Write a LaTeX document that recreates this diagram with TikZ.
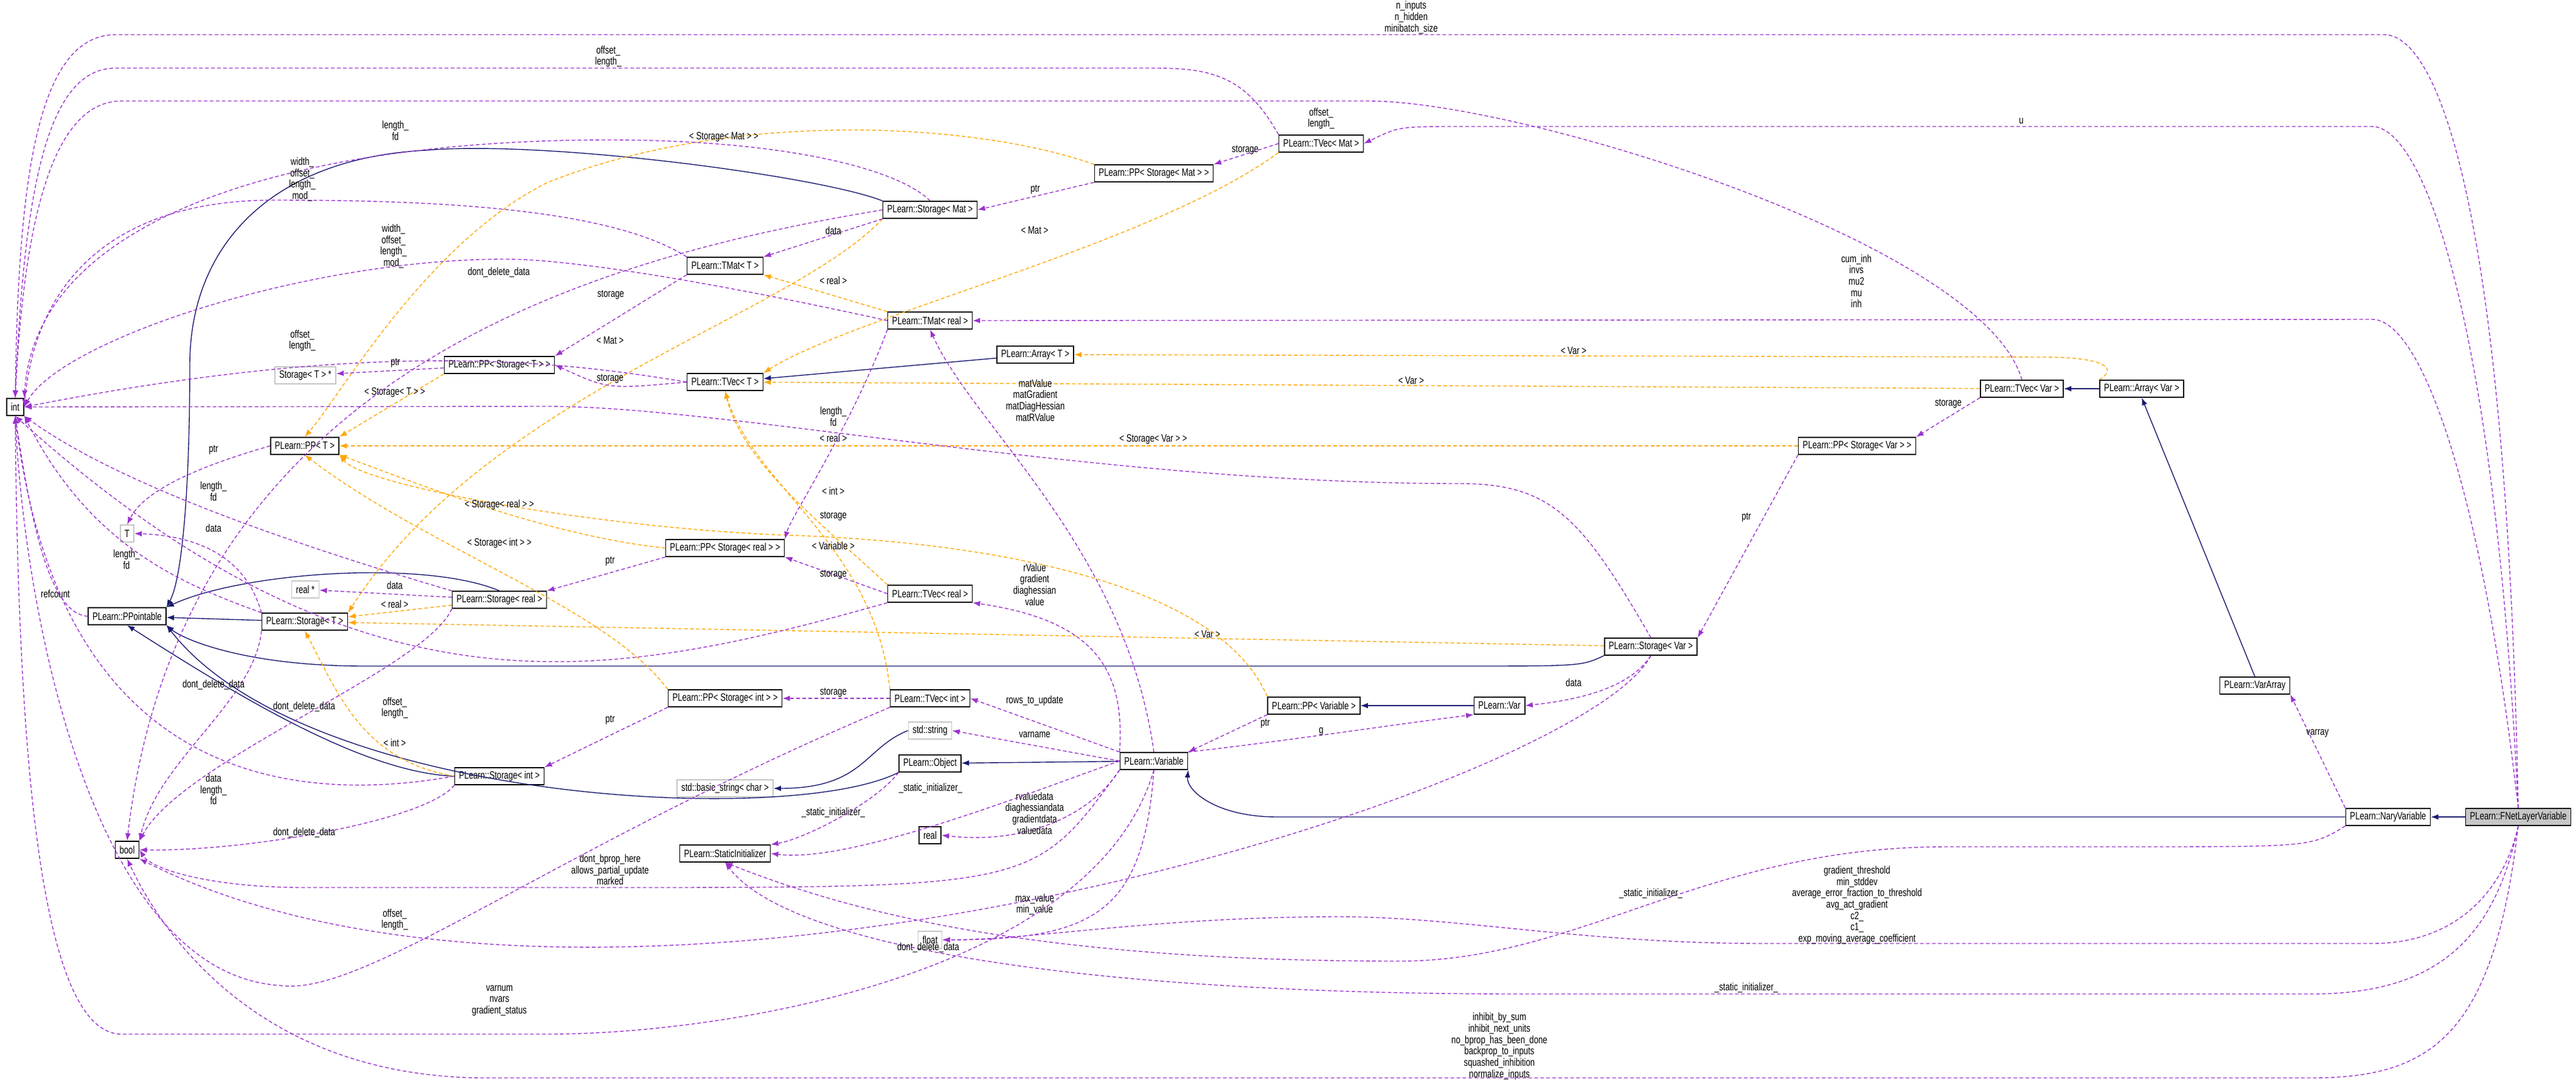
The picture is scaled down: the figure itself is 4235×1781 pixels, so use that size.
\documentclass[tikz,border=0pt]{standalone}
\usepackage{fontspec}
\newfontfamily\dxfont{Liberation Sans}[FakeStretch=0.75]
\usetikzlibrary{arrows.meta,positioning}
\definecolor{usecol}{HTML}{9A32CD}
\definecolor{tplcol}{HTML}{FFA500}
\definecolor{inhcol}{HTML}{191970}
\begin{document}
\begin{tikzpicture}[x=0.01cm,y=-0.01cm,
  cls/.style={draw=black,line width=0.45pt,fill=white,minimum height=0.28cm,inner xsep=2pt,inner ysep=0pt,font=\dxfont\fontsize{5}{5.3}\selectfont},
  ext/.style={cls,draw=gray!45},
  focus/.style={cls,fill=gray!45},
  lbl/.style={font=\dxfont\fontsize{5}{5.3}\selectfont,align=center,inner sep=0pt},
  use/.style={draw=usecol,line width=0.4pt,dash pattern=on 1.7pt off 1.1pt,-{Latex[length=3.5pt,width=2.6pt]}},
  tmpl/.style={draw=tplcol,line width=0.4pt,dash pattern=on 1.7pt off 1.1pt,-{Latex[length=3.5pt,width=2.6pt]}},
  inh/.style={draw=inhcol,line width=0.4pt,-{Latex[length=3.5pt,width=2.6pt]}}]
\useasboundingbox (0,0) rectangle (4235,1781);
% classes
\node[cls] (int) at (25,669) {int};
\node[cls] (bool) at (209,1397) {bool};
\node[cls] (ppt) at (209,1013) {PLearn::PPointable};
\node[ext] (tT) at (209,877) {T};
\node[ext] (stTs) at (502,617) {Storage< T > *};
\node[cls] (ppT) at (501,733) {PLearn::PP< T >};
\node[cls] (stT) at (501,1022) {PLearn::Storage< T >};
\node[ext] (realp) at (502,969) {real *};
\node[cls] (ppStT) at (821,600) {PLearn::PP< Storage< T > >};
\node[cls] (stReal) at (821,986) {PLearn::Storage< real >};
\node[cls] (stInt) at (821,1276) {PLearn::Storage< int >};
\node[cls] (tmatT) at (1192,437) {PLearn::TMat< T >};
\node[cls] (tvecT) at (1192,628) {PLearn::TVec< T >};
\node[cls] (ppStReal) at (1192,901) {PLearn::PP< Storage< real > >};
\node[cls] (ppStInt) at (1192,1148) {PLearn::PP< Storage< int > >};
\node[ext] (bstr) at (1192,1296) {std::basic\_string< char >};
\node[cls] (sinit) at (1192,1403) {PLearn::StaticInitializer};
\node[cls] (stMat) at (1529,345) {PLearn::Storage< Mat >};
\node[cls] (tmatReal) at (1529,527) {PLearn::TMat< real >};
\node[cls] (tvecReal) at (1529,976) {PLearn::TVec< real >};
\node[cls] (tvecInt) at (1529,1148) {PLearn::TVec< int >};
\node[ext] (str) at (1529,1201) {std::string};
\node[cls] (obj) at (1529,1255) {PLearn::Object};
\node[cls] (realn) at (1529,1373) {real};
\node[ext] (flt) at (1529,1545) {float};
\node[cls] (arrT) at (1702,583) {PLearn::Array< T >};
\node[cls] (ppStMat) at (1897,285) {PLearn::PP< Storage< Mat > >};
\node[cls] (var) at (1897,1251) {PLearn::Variable};
\node[cls] (tvecMat) at (2172,236) {PLearn::TVec< Mat >};
\node[cls] (ppVariable) at (2160,1160) {PLearn::PP< Variable >};
\node[cls] (pvar) at (2465,1160) {PLearn::Var};
\node[cls] (stVar) at (2714,1063) {PLearn::Storage< Var >};
\node[cls] (ppStVar) at (3053,733) {PLearn::PP< Storage< Var > >};
\node[cls] (tvecVar) at (3324,639) {PLearn::TVec< Var >};
\node[cls] (arrVar) at (3521,639) {PLearn::Array< Var >};
\node[cls] (varArr) at (3707,1127) {PLearn::VarArray};
\node[cls] (nary) at (3926,1343) {PLearn::NaryVariable};
\node[focus] (fnet) at (4140,1343) {PLearn::FNetLayerVariable};
% inheritance
\draw[inh] (fnet) -- (nary);
\draw[inh] (nary.west) -- (2100,1343) .. controls (2000,1343) and (1950,1300) .. (var.south east);
\draw[inh] (varArr.north) -- (arrVar.south);
\draw[inh] (arrVar) -- (tvecVar);
\draw[inh] (pvar) -- (ppVariable);
\draw[inh] (var) -- (obj);
\draw[inh] (str.west) .. controls (1420,1230) and (1420,1296) .. (bstr.east);
\draw[inh] (obj.south west) .. controls (1300,1360) and (500,1320) .. (ppt.south east);
\draw[inh] (stInt.west) .. controls (600,1270) and (400,1150) .. (ppt.south);
\draw[inh] (stT) -- (ppt);
\draw[inh] (stReal.north) .. controls (700,920) and (400,940) .. (ppt.north east);
\draw[inh] (stMat.north west) .. controls (1350,290) and (900,230) .. (700,247) .. controls (450,260) and (312,400) .. (312,600) .. controls (312,800) and (300,950) .. (ppt.north east);
\draw[inh] (stVar.south west) .. controls (2600,1095) .. (2400,1095) -- (600,1095) .. controls (400,1095) and (300,1050) .. (ppt.south east);
\draw[inh] (arrT) -- (tvecT);
% template instances
\draw[tmpl] (arrVar.north west) .. controls (3490,600) and (3440,587) .. (3360,587) -- (arrT.east);
\node[lbl] at (2587,577) {< Var >};
\draw[tmpl] (tvecVar) -- (tvecT);
\node[lbl] at (2320,626) {< Var >};
\draw[tmpl] (ppStVar) -- (ppT);
\node[lbl] at (1896,722) {< Storage< Var > >};
\draw[tmpl] (stVar) -- (stT);
\node[lbl] at (1985,1043) {< Var >};
\draw[tmpl] (tvecMat.south west) .. controls (1900,400) and (1400,520) .. (tvecT.north east);
\node[lbl] at (1701,379) {< Mat >};
\draw[tmpl] (ppStMat.north west) .. controls (1600,200) and (1200,180) .. (900,300) .. controls (700,400) and (560,650) .. (ppT.north);
\node[lbl] at (1190,225) {< Storage< Mat > >};
\draw[tmpl] (stMat.south west) .. controls (1300,520) and (800,650) .. (stT.north east);
\node[lbl] at (1003,560) {< Mat >};
\draw[tmpl] (tmatReal.north west) -- (tmatT.south east);
\node[lbl] at (1370,461) {< real >};
\draw[tmpl] (tvecReal.north west) .. controls (1350,860) and (1220,760) .. (tvecT.south);
\node[lbl] at (1370,720) {< real >};
\draw[tmpl] (tvecInt.north west) .. controls (1440,900) and (1240,800) .. (tvecT.south);
\node[lbl] at (1370,807) {< int >};
\draw[tmpl] (ppVariable.north west) .. controls (2000,950) and (1600,890) .. (1300,880) .. controls (1000,870) and (600,800) .. (ppT.south east);
\node[lbl] at (1370,897) {< Variable >};
\draw[tmpl] (ppStReal.west) .. controls (900,880) and (700,800) .. (ppT.south east);
\node[lbl] at (821,830) {< Storage< real > >};
\draw[tmpl] (ppStInt.north west) .. controls (1000,1000) and (700,900) .. (ppT.south);
\node[lbl] at (821,893) {< Storage< int > >};
\draw[tmpl] (stReal) -- (stT);
\node[lbl] at (649,993) {< real >};
\draw[tmpl] (stInt.west) .. controls (600,1250) and (560,1150) .. (stT.south);
\node[lbl] at (649,1221) {< int >};
\draw[tmpl] (ppStT.south west) -- (ppT.north east);
\node[lbl] at (649,645) {< Storage< T > >};
% members of FNetLayerVariable
\draw[use] (fnet.north) .. controls (4120,300) and (4000,57) .. (3920,57) -- (190,57) .. controls (60,57) and (30,300) .. (int.north);
\node[lbl] at (2320,29) {n\_inputs\\n\_hidden\\minibatch\_size};
\draw[use] (fnet.north) .. controls (4100,500) and (3980,208) .. (3900,208) -- (2400,208) .. controls (2300,208) .. (tvecMat.east);
\node[lbl] at (3323,199) {u};
\draw[use] (fnet.north) .. controls (4080,800) and (3980,525) .. (3900,525) -- (tmatReal.east);
\node[lbl] at (3052,462) {cum\_inh\\invs\\mu2\\mu\\inh};
\draw[use] (fnet.south) .. controls (4120,1450) and (4050,1551) .. (3900,1551) -- (2900,1551) .. controls (2600,1551) and (2400,1507) .. (2200,1507) .. controls (1900,1507) and (1700,1545) .. (flt.east);
\node[lbl] at (3053,1488) {gradient\_threshold\\min\_stddev\\average\_error\_fraction\_to\_threshold\\avg\_act\_gradient\\c2\_\\c1\_\\exp\_moving\_average\_coefficient};
\draw[use] (fnet.south) .. controls (4100,1550) and (4000,1634) .. (3800,1634) -- (2500,1634) .. controls (1800,1634) and (1300,1560) .. (sinit.south);
\node[lbl] at (2871,1624) {\_static\_initializer\_};
\draw[use] (fnet.south) .. controls (4100,1700) and (4000,1772) .. (3800,1772) -- (800,1772) .. controls (400,1772) and (250,1500) .. (bool.south);
\node[lbl] at (2465,1720) {inhibit\_by\_sum\\inhibit\_next\_units\\no\_bprop\_has\_been\_done\\backprop\_to\_inputs\\squashed\_inhibition\\normalize\_inputs};
\draw[use] (nary.south west) .. controls (3800,1392) .. (3500,1392) -- (3200,1392) .. controls (2800,1392) and (2600,1580) .. (2300,1580) .. controls (1700,1580) and (1400,1500) .. (sinit.south);
\node[lbl] at (2714,1469) {\_static\_initializer\_};
\draw[use] (nary.north west) -- (varArr.south east);
\node[lbl] at (3810,1206) {varray};
% Var containers
\draw[use] (tvecVar.north) .. controls (3260,400) and (2500,166) .. (2250,166) -- (200,166) .. controls (90,166) and (40,350) .. (int.north);
\node[lbl] at (2172,195) {offset\_\\length\_};
\draw[use] (tvecVar.south west) -- (ppStVar.north east);
\node[lbl] at (3203,664) {storage};
\draw[use] (ppStVar.south west) -- (stVar.north east);
\node[lbl] at (2871,851) {ptr};
\draw[use] (stVar.south) .. controls (2680,1130) and (2600,1150) .. (pvar.east);
\node[lbl] at (2587,1122) {data};
\draw[use] (stVar.north) .. controls (2600,850) and (2550,795) .. (2400,795) .. controls (1800,795) and (1200,668) .. (900,668) -- (int.east);
\node[lbl] at (1370,685) {length\_\\fd};
\draw[use] (stVar.south) .. controls (2600,1300) and (1000,1800) .. (bool.south east);
\node[lbl] at (1526,1558) {dont\_delete\_data};
\draw[use] (var.north east) .. controls (2100,1220) and (2300,1190) .. (pvar.south west);
\node[lbl] at (2172,1203) {g};
\draw[use] (ppVariable.south west) -- (var.north east);
\node[lbl] at (2080,1190) {ptr};
% members of Variable
\draw[use] (var.north) .. controls (1850,900) and (1600,700) .. (tmatReal.south);
\node[lbl] at (1702,658) {matValue\\matGradient\\matDiagHessian\\matRValue};
\draw[use] (var.north west) .. controls (1850,1100) and (1800,1020) .. (tvecReal.south east);
\node[lbl] at (1701,961) {rValue\\gradient\\diaghessian\\value};
\draw[use] (var.north west) -- (tvecInt.east);
\node[lbl] at (1701,1152) {rows\_to\_update};
\draw[use] (var.west) -- (str.east);
\node[lbl] at (1701,1208) {varname};
\draw[use] (var.south west) .. controls (1800,1330) and (1700,1390) .. (realn.east);
\node[lbl] at (1701,1337) {rvaluedata\\diaghessiandata\\gradientdata\\valuedata};
\draw[use] (var.south) .. controls (1880,1500) and (1800,1545) .. (flt.east);
\node[lbl] at (1701,1487) {max\_value\\min\_value};
\draw[use] (var.west) .. controls (1700,1300) and (1400,1420) .. (sinit.east);
\node[lbl] at (1370,1336) {\_static\_initializer\_};
\draw[use] (obj.south west) .. controls (1440,1320) and (1320,1380) .. (sinit.north east);
\node[lbl] at (1530,1296) {\_static\_initializer\_};
\draw[use] (var.south west) .. controls (1700,1459) .. (1000,1459) -- (500,1459) .. controls (350,1459) and (250,1430) .. (bool.east);
\node[lbl] at (1003,1430) {dont\_bprop\_here\\allows\_partial\_update\\marked};
\draw[use] (var.south) .. controls (1800,1600) and (1200,1700) .. (900,1700) -- (200,1700) .. controls (60,1700) and (30,1200) .. (int.south);
\node[lbl] at (821,1645) {varnum\\nvars\\gradient\_status};
% Mat containers
\draw[use] (tvecMat.north west) .. controls (2050,130) and (2000,112) .. (1900,112) -- (190,112) .. controls (80,112) and (40,300) .. (int.north);
\node[lbl] at (1000,93) {offset\_\\length\_};
\draw[use] (tvecMat.west) -- (ppStMat.north east);
\node[lbl] at (2047,247) {storage};
\draw[use] (ppStMat.south west) -- (stMat.east);
\node[lbl] at (1702,312) {ptr};
\draw[use] (stMat.south west) -- (tmatT.north east);
\node[lbl] at (1370,379) {data};
\draw[use] (stMat.north) .. controls (1480,280) and (1300,230) .. (1000,230) .. controls (500,230) and (60,350) .. (int.north east);
\node[lbl] at (650,215) {length\_\\fd};
\draw[use] (stMat.west) .. controls (1000,420) and (300,600) .. (bool.north);
\node[lbl] at (820,448) {dont\_delete\_data};
% TMat / TVec
\draw[use] (tmatT.north west) .. controls (1000,340) and (700,329) .. (450,329) .. controls (200,329) and (60,450) .. (int.east);
\node[lbl] at (497,295) {width\_\\offset\_\\length\_\\mod\_};
\draw[use] (tmatReal.west) .. controls (1200,470) and (950,426) .. (830,426) .. controls (500,426) and (100,560) .. (int.east);
\node[lbl] at (647,405) {width\_\\offset\_\\length\_\\mod\_};
\draw[use] (tvecT.west) .. controls (900,590) and (600,560) .. (int.east);
\node[lbl] at (497,560) {offset\_\\length\_};
\draw[use] (tvecReal.south west) .. controls (1000,1120) and (600,1200) .. (int.south);
\node[lbl] at (649,1164) {offset\_\\length\_};
\draw[use] (tvecInt.south west) .. controls (900,1400) and (600,1640) .. (460,1620) .. controls (150,1600) and (40,1000) .. (int.south);
\node[lbl] at (649,1512) {offset\_\\length\_};
\draw[use] (tmatT.south west) -- (ppStT.north east);
\node[lbl] at (1004,485) {storage};
\draw[use] (tvecT.west) .. controls (1000,640) .. (ppStT.east);
\node[lbl] at (1003,623) {storage};
\draw[use] (tmatReal.south west) .. controls (1400,700) and (1300,850) .. (ppStReal.north east);
\node[lbl] at (1370,849) {storage};
\draw[use] (tvecReal.west) -- (ppStReal.south east);
\node[lbl] at (1370,945) {storage};
\draw[use] (tvecInt) -- (ppStInt);
\node[lbl] at (1370,1139) {storage};
% PP and Storage
\draw[use] (ppStT) -- (stTs);
\node[lbl] at (650,597) {ptr};
\draw[use] (ppT.west) .. controls (350,760) and (240,800) .. (tT.north);
\node[lbl] at (351,740) {ptr};
\draw[use] (stT.north west) .. controls (400,900) and (300,880) .. (tT.east);
\node[lbl] at (351,868) {data};
\draw[use] (stReal) -- (realp);
\node[lbl] at (649,962) {data};
\draw[use] (ppStReal.south west) -- (stReal.north east);
\node[lbl] at (1003,923) {ptr};
\draw[use] (ppStInt.south west) -- (stInt.north east);
\node[lbl] at (1003,1184) {ptr};
\draw[use] (stReal.north west) .. controls (500,900) and (200,800) .. (int.south east);
\node[lbl] at (351,808) {length\_\\fd};
\draw[use] (stT.north west) .. controls (300,960) and (150,900) .. (int.south east);
\node[lbl] at (208,920) {length\_\\fd};
\draw[use] (ppt.west) .. controls (80,1010) and (50,850) .. (int.south);
\node[lbl] at (91,976) {refcount};
\draw[use] (stInt.west) .. controls (500,1320) and (100,1300) .. (int.south);
\node[lbl] at (351,1298) {data\\length\_\\fd};
\draw[use] (stT.south west) .. controls (420,1150) and (260,1250) .. (bool.north east);
\node[lbl] at (351,1126) {dont\_delete\_data};
\draw[use] (stReal.south west) .. controls (700,1100) and (300,1250) .. (bool.north east);
\node[lbl] at (500,1162) {dont\_delete\_data};
\draw[use] (stInt.south west) .. controls (700,1350) and (400,1400) .. (bool.east);
\node[lbl] at (500,1369) {dont\_delete\_data};
\end{tikzpicture}
\end{document}
